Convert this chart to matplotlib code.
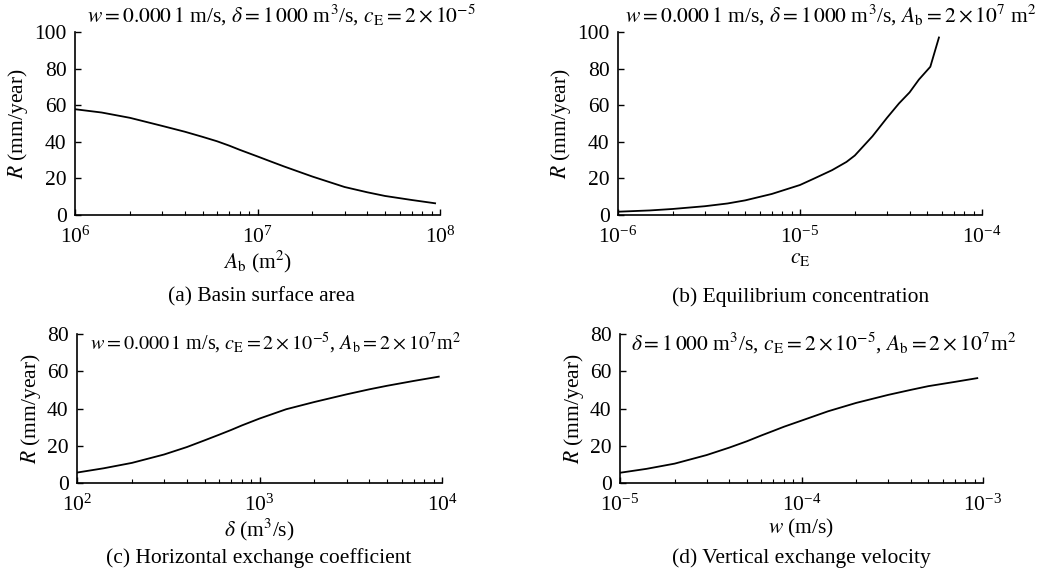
import matplotlib
matplotlib.use('Agg')
import matplotlib.pyplot as plt
from matplotlib.ticker import LogLocator, NullFormatter

plt.rcParams['font.family'] = 'serif'
plt.rcParams['font.serif'] = ['Liberation Serif', 'DejaVu Serif']
plt.rcParams['mathtext.fontset'] = 'stix'
plt.rcParams['font.size'] = 15.5

# (a) basin surface area
ab = [1e6, 1.4e6, 2e6, 3e6, 4e6, 5e6, 6e6, 7e6, 8e6, 1e7, 1.2e7, 1.4e7, 1.7e7,
      2e7, 3e7, 4e7, 5e7, 7e7, 9.4e7]
r_ab = [57.8, 56.0, 53.1, 48.7, 45.5, 42.7, 40.3, 37.9, 35.6, 32.0, 29.0, 26.5, 23.5,
        21.0, 15.3, 12.4, 10.4, 8.2, 6.4]

# (b) equilibrium concentration
ce = [1e-6, 1.5e-6, 2e-6, 3e-6, 4e-6, 5e-6, 7e-6, 1e-5, 1.2e-5, 1.5e-5, 1.8e-5,
      2e-5, 2.5e-5, 3e-5, 3.5e-5, 4e-5, 4.5e-5, 5.2e-5, 5.8e-5]
r_ce = [1.8, 2.5, 3.3, 4.8, 6.3, 8.0, 11.5, 16.4, 20.0, 24.5, 29.0,
        32.5, 43.0, 53.0, 61.0, 67.0, 74.0, 81.0, 97.0]

# (c) horizontal exchange coefficient
delta = [1e2, 1.4e2, 2e2, 3e2, 4e2, 5e2, 6e2, 7e2, 8e2, 1e3, 1.4e3,
         2e3, 3e3, 4e3, 5e3, 7e3, 9.6e3]
r_delta = [5.6, 7.9, 10.8, 15.3, 19.3, 22.9, 25.9, 28.5, 30.9, 34.6, 39.6,
           43.5, 47.6, 50.3, 52.2, 54.8, 57.1]

# (d) vertical exchange velocity
w = [1e-5, 1.4e-5, 2e-5, 3e-5, 4e-5, 5e-5, 6e-5, 7e-5, 8e-5, 1e-4, 1.4e-4,
     2e-4, 3e-4, 4e-4, 5e-4, 7e-4, 9.3e-4]
r_w = [5.5, 7.6, 10.4, 15.0, 19.0, 22.4, 25.5, 28.0, 30.2, 33.5, 38.5,
       43.0, 47.3, 50.0, 52.0, 54.3, 56.3]

W, H = 1046, 577
fig = plt.figure(figsize=(W / 100, H / 100), dpi=100)


def px_axes(x0, x1, ytop, ybot):
    return fig.add_axes([x0 / W, 1 - ybot / H, (x1 - x0) / W, (ybot - ytop) / H])


def style(ax, xlim, ylim, yticks, xlabel):
    ax.set_xscale('log')
    ax.set_xlim(xlim)
    ax.set_ylim(ylim)
    ax.set_yticks(yticks)
    ax.xaxis.set_major_locator(LogLocator(base=10, numticks=10))
    ax.xaxis.set_minor_locator(LogLocator(base=10, subs=range(2, 10), numticks=10))
    ax.xaxis.set_minor_formatter(NullFormatter())
    for s in ['top', 'right']:
        ax.spines[s].set_visible(False)
    for s in ['left', 'bottom']:
        ax.spines[s].set_linewidth(1.2)
    ax.tick_params(which='major', direction='in', length=4, width=1.0, pad=6)
    ax.tick_params(which='minor', direction='in', length=3, width=0.8)
    ax.tick_params(axis='x', which='major', pad=8)
    ax.set_xlabel(xlabel, labelpad=1)
    ax.set_ylabel(r'$R$ (mm/year)', labelpad=3)


ax_a = px_axes(75, 440, 32, 215)
ax_a.plot(ab, r_ab, color='black', lw=1.3)
style(ax_a, (1e6, 1e8), (0, 100), range(0, 101, 20), r'$A_{\mathrm{b}}$ (m$^2$)')

ax_b = px_axes(618, 982, 32, 215)
ax_b.plot(ce, r_ce, color='black', lw=1.3)
style(ax_b, (1e-6, 1e-4), (0, 100), range(0, 101, 20), r'$c_{\mathrm{E}}$')

ax_c = px_axes(77, 442, 334, 483)
ax_c.plot(delta, r_delta, color='black', lw=1.3)
style(ax_c, (1e2, 1e4), (0, 80), range(0, 81, 20), r'$\delta$ (m$^3$/s)')

ax_d = px_axes(620, 983, 334, 483)
ax_d.plot(w, r_w, color='black', lw=1.3)
style(ax_d, (1e-5, 1e-3), (0, 80), range(0, 81, 20), r'$w$ (m/s)')

# parameter notes
fig.text(281 / W, 1 - 15 / H,
         r'$w = 0.000\,1$ m/s, $\delta = 1\,000$ m$^3$/s, $c_{\mathrm{E}} = 2\times10^{-5}$',
         ha='center', va='center')
fig.text(831 / W, 1 - 15 / H,
         r'$w = 0.000\,1$ m/s, $\delta = 1\,000$ m$^3$/s, $A_{\mathrm{b}} = 2\times10^{7}$ m$^2$',
         ha='center', va='center')
fig.text(276 / W, 1 - 343 / H,
         r'$w = 0.000\,1$ m/s, $c_{\mathrm{E}} = 2\times10^{-5}$, $A_{\mathrm{b}} = 2\times10^{7}$m$^2$',
         ha='center', va='center', fontsize=14.5)
fig.text(824 / W, 1 - 343 / H,
         r'$\delta = 1\,000$ m$^3$/s, $c_{\mathrm{E}} = 2\times10^{-5}$, $A_{\mathrm{b}} = 2\times10^{7}$m$^2$',
         ha='center', va='center')

# captions
fig.text(261 / W, 1 - 297 / H, '(a) Basin surface area', ha='center', va='center')
fig.text(801 / W, 1 - 297 / H, '(b) Equilibrium concentration', ha='center', va='center')
fig.text(259 / W, 1 - 558 / H, '(c) Horizontal exchange coefficient', ha='center', va='center')
fig.text(801 / W, 1 - 558 / H, '(d) Vertical exchange velocity', ha='center', va='center')

fig.savefig('out.png', dpi=100)
